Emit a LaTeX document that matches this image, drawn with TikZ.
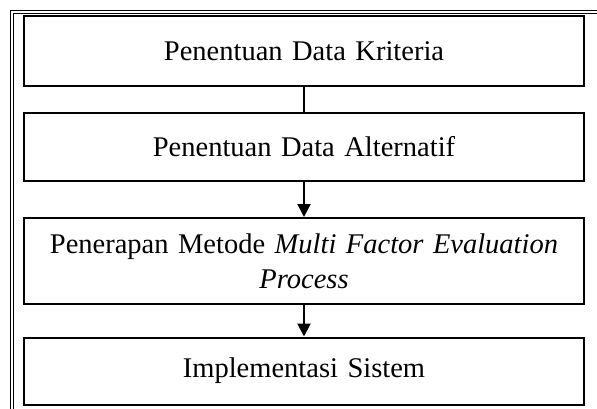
\documentclass[tikz,border=0pt]{standalone}
\usepackage{fontspec}
\setmainfont{Liberation Serif}
\usetikzlibrary{arrows.meta, positioning}

\begin{document}
\begin{tikzpicture}[
  x=1pt, y=-1pt,
  font=\fontsize{28.5}{35}\selectfont,
  garis/.style={draw=black, line width=2pt},
  panah/.style={garis, -{Triangle[length=13pt,width=13pt]}},
  kotak/.style={draw=black, line width=2pt, inner sep=0pt, align=center,
                minimum width=560pt, text width=540pt},
  bingkai/.style={draw=black, line width=0.9pt}
]
\useasboundingbox (0,0) rectangle (597,409);

% ---- bingkai luar (garis ganda, kiri dan atas)
\draw[bingkai] (10,409) -- (10,10.5) -- (597,10.5);
\draw[bingkai] (13,409) -- (13,13.5) -- (597,13.5);

% ---- tahapan -------------------------------------------------------
\node[kotak, minimum height=70pt] (kriteria)   at (304,51)  {Penentuan Data Kriteria};
\node[kotak, minimum height=67pt] (alternatif) at (304,147) {Penentuan Data Alternatif};
\node[kotak, minimum height=86pt] (mfep)       at (304,261)
     {Penerapan Metode \textit{Multi Factor Evaluation}\\\textit{Process}};
\node[kotak, minimum height=67pt] (sistem)     at (304,371) {Implementasi Sistem};

% ---- penghubung ----------------------------------------------------
\draw[garis] (kriteria) -- (alternatif);
\draw[panah] (alternatif) -- (mfep);
\draw[panah] (mfep) -- (sistem);

\end{tikzpicture}
\end{document}
